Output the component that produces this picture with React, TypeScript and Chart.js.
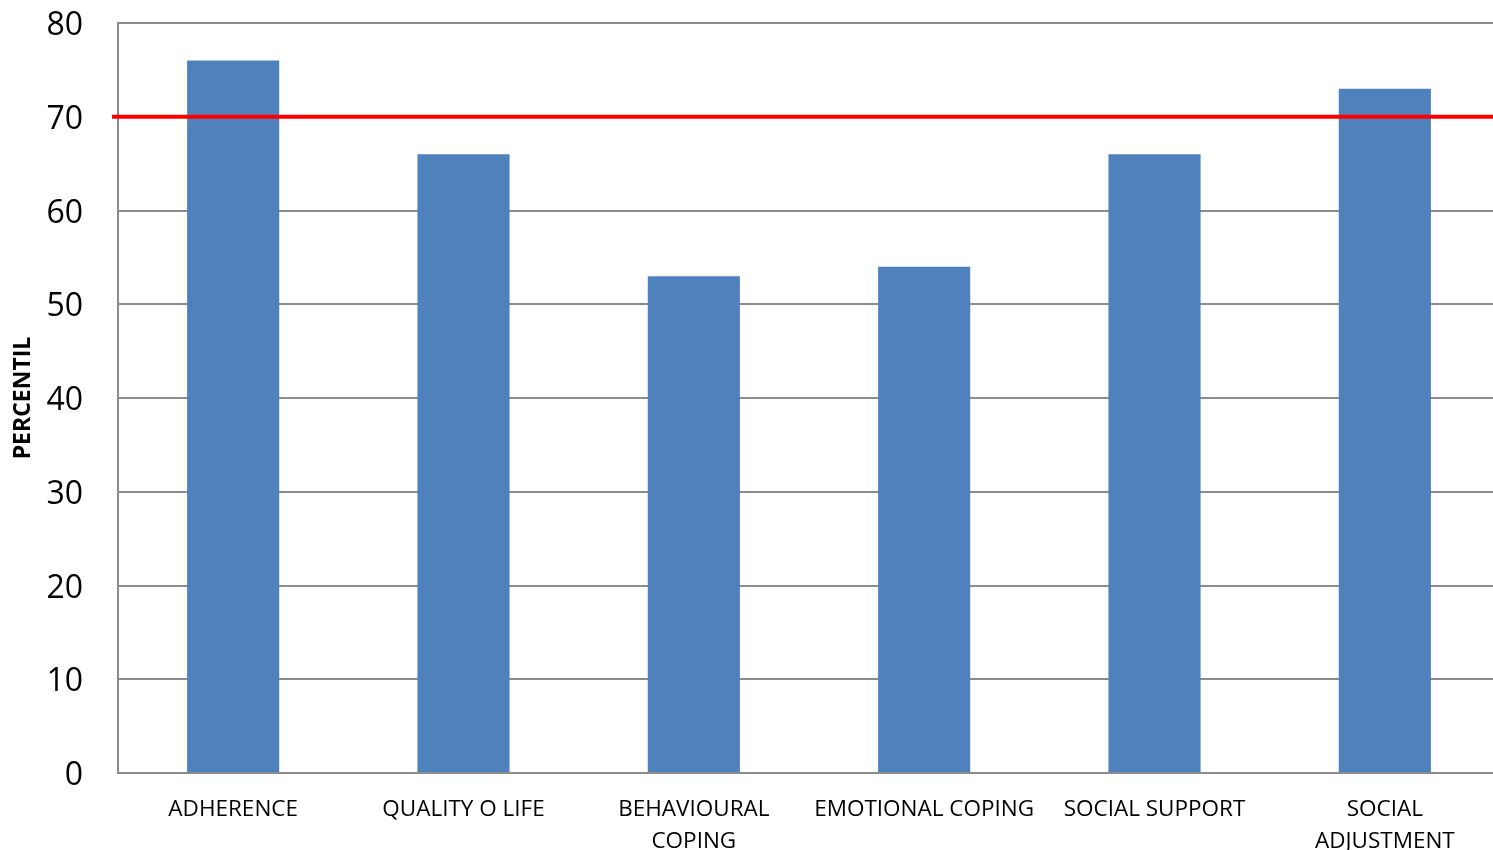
import React, { useEffect, useRef } from "react";
import { Chart, registerables } from "chart.js";

Chart.register(...registerables);

const categories: (string | string[])[] = [
  "ADHERENCE",
  "QUALITY O LIFE",
  ["BEHAVIOURAL", "COPING"],
  "EMOTIONAL COPING",
  "SOCIAL SUPPORT",
  ["SOCIAL", "ADJUSTMENT"],
];
const percentiles = [76, 66, 53, 54, 66, 73];
const threshold = 70;
const yMin = 0;
const yMax = 80;
const yStep = 10;

const FONT = "'Open Sans', sans-serif";

const thresholdPlugin = {
  id: "thresholdLine",
  afterDatasetsDraw(chart: any) {
    const { ctx, chartArea, scales } = chart;
    const y = scales.y.getPixelForValue(threshold);
    ctx.save();
    ctx.strokeStyle = "#ff0000";
    ctx.lineWidth = 4;
    ctx.beginPath();
    ctx.moveTo(chartArea.left - 6, y);
    ctx.lineTo(chartArea.right, y);
    ctx.stroke();
    ctx.restore();
  },
};

export default function App() {
  const ref = useRef<HTMLCanvasElement | null>(null);
  useEffect(() => {
    if (!ref.current) return;
    const chart = new Chart(ref.current, {
      type: "bar",
      data: {
        labels: categories,
        datasets: [
          {
            label: "PERCENTIL",
            data: percentiles,
            backgroundColor: "#4f81bd",
            borderWidth: 0,
            barPercentage: 0.4,
            categoryPercentage: 1,
          },
        ],
      },
      options: {
        animation: false,
        responsive: true,
        maintainAspectRatio: false,
        layout: { padding: { top: 23, right: 0, left: 0, bottom: 0 } },
        plugins: {
          legend: { display: false },
          tooltip: { enabled: false },
        },
        scales: {
          x: {
            grid: { display: false, drawTicks: false },
            border: { display: true, color: "#8c8c8c", width: 2 },
            ticks: {
              color: "#000",
              font: { family: FONT, size: 22.5, lineHeight: 1.42 },
              padding: 21,
              maxRotation: 0,
              autoSkip: false,
            },
            afterFit(scale: any) {
              scale.height = 77;
              scale.paddingLeft = 0;
              scale.paddingRight = 0;
            },
          },
          y: {
            min: yMin,
            max: yMax,
            grid: { color: "#8c8c8c", lineWidth: 2, drawTicks: false },
            border: { display: true, color: "#8c8c8c", width: 2 },
            ticks: {
              stepSize: yStep,
              color: "#000",
              font: { family: FONT, size: 32 },
              padding: 35,
              labelOffset: 3,
            },
            title: {
              display: true,
              text: "PERCENTIL",
              color: "#000",
              font: { family: FONT, size: 23, weight: "bold" },
              padding: { top: 10, bottom: 0 },
            },
            afterFit(scale: any) {
              scale.width = 118;
              scale.paddingTop = 0;
              scale.paddingBottom = 0;
            },
          },
        },
      },
      plugins: [thresholdPlugin],
    });
    return () => chart.destroy();
  }, []);
  return (
    <div style={{ position: "fixed", left: 0, top: 0, width: 1493, height: 850, overflow: "hidden", background: "#fff" }}>
      <div style={{ position: "absolute", left: 0, top: 0, width: 1500, height: 850 }}>
        <canvas ref={ref} />
      </div>
    </div>
  );
}
